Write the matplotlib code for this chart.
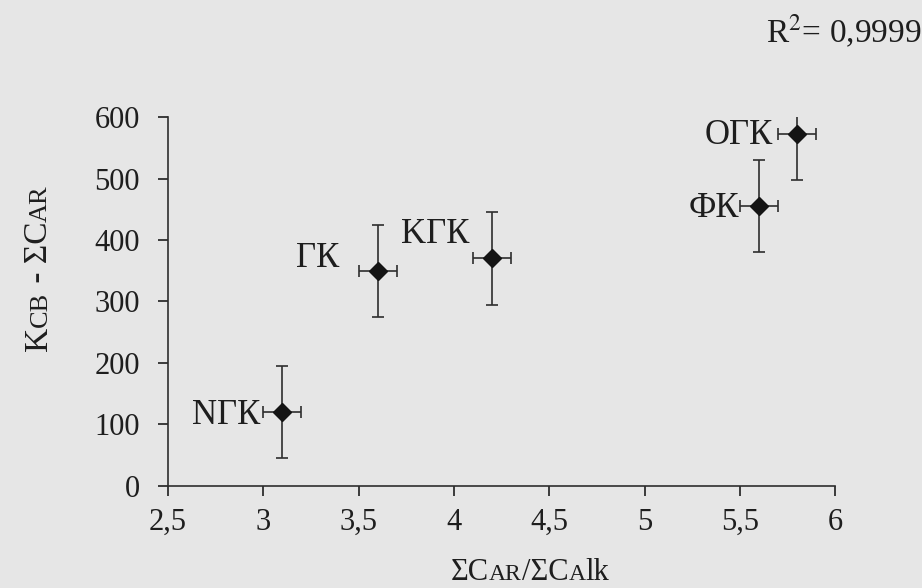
import matplotlib.pyplot as plt
from matplotlib.transforms import IdentityTransform

plt.rcParams['font.family'] = ['Liberation Serif', 'DejaVu Serif']
plt.rcParams['mathtext.fontset'] = 'stix'

# data
names = ['NГК', 'ГК', 'KГК', 'ФК', 'ОГК']
x = [3.1, 3.6, 4.2, 5.6, 5.8]
y = [120, 350, 370, 455, 572]
x_err = [0.1, 0.1, 0.1, 0.1, 0.1]
y_err = [75, 75, 75, 75, 75]
x_ticks = [2.5, 3, 3.5, 4, 4.5, 5, 5.5, 6]
y_ticks = [0, 100, 200, 300, 400, 500, 600]

# label offsets in pixels from the point to the right end of the baseline
label_off = {
    'NГК': (-22, -12),
    'ГК': (-38, 4),
    'KГК': (-23, 15),
    'ФК': (-20, -11),
    'ОГК': (-24, -10),
}

bg = '#e6e6e6'
ink = '#1e1e1e'
TICK = 22

fig = plt.figure(figsize=(9.22, 5.88), dpi=100, facecolor=bg)
ax = fig.add_axes([0.182, 0.1735, 0.724, 0.6275], facecolor=bg)

ax.errorbar(x, y, xerr=x_err, yerr=y_err, fmt='D', color='#141414',
            ecolor='#2e2e2e', elinewidth=1.2, capsize=4.5, capthick=1.2,
            markersize=9.5)

for n, xi, yi in zip(names, x, y):
    dx, dy = label_off[n]
    ax.annotate(n, (xi, yi), xytext=(dx, dy), textcoords='offset pixels',
                ha='right', va='baseline', fontsize=25, color=ink)

ax.set_xlim(2.5, 6)
ax.set_ylim(0, 600)
ax.set_xticks(x_ticks)
ax.set_xticklabels([f'{t:g}'.replace('.', ',') for t in x_ticks])
ax.set_yticks(y_ticks)
ax.tick_params(labelsize=TICK, colors=ink, direction='out', length=7, width=1.2)
ax.tick_params(axis='y', pad=13)
ax.tick_params(axis='x', pad=9)

for s in ['top', 'right']:
    ax.spines[s].set_visible(False)
for s in ['left', 'bottom']:
    ax.spines[s].set_linewidth(1.2)
    ax.spines[s].set_color('#2e2e2e')


# axis titles set in small capitals: pieces of two sizes on one baseline
renderer = fig.canvas.get_renderer()


def advance(s, size):
    t = fig.text(0, 0, 'x' + s + 'x', fontsize=size)
    u = fig.text(0, 0, 'xx', fontsize=size)
    w = t.get_window_extent(renderer).width - u.get_window_extent(renderer).width
    t.remove()
    u.remove()
    return w


def caps_label(cx, cy, parts, rotation=0):
    widths = [advance(s, size) for s, size in parts]
    pos = -sum(widths) / 2
    for (s, size), w in zip(parts, widths):
        px, py = (cx + pos, cy) if rotation == 0 else (cx, cy + pos)
        fig.text(px, py, s, fontsize=size, color=ink, ha='left', va='baseline',
                 rotation=rotation, rotation_mode='anchor',
                 transform=IdentityTransform())
        pos += w


# pixel positions measured from the bottom-left corner
caps_label(530, 8, [('ΣC', 22), ('AR', 17), ('/ΣC', 22), ('A', 17), ('lk', 22)])
caps_label(47, 320, [('K', 24), ('CB', 19), (' - ΣC', 24), ('AR', 19)], rotation=90)

fig.text(1.0, 545 / 588, 'R$^{2}$= 0,9999', ha='right', va='baseline', fontsize=24,
         color=ink)

fig.savefig('out.png', dpi=100, facecolor=bg)
